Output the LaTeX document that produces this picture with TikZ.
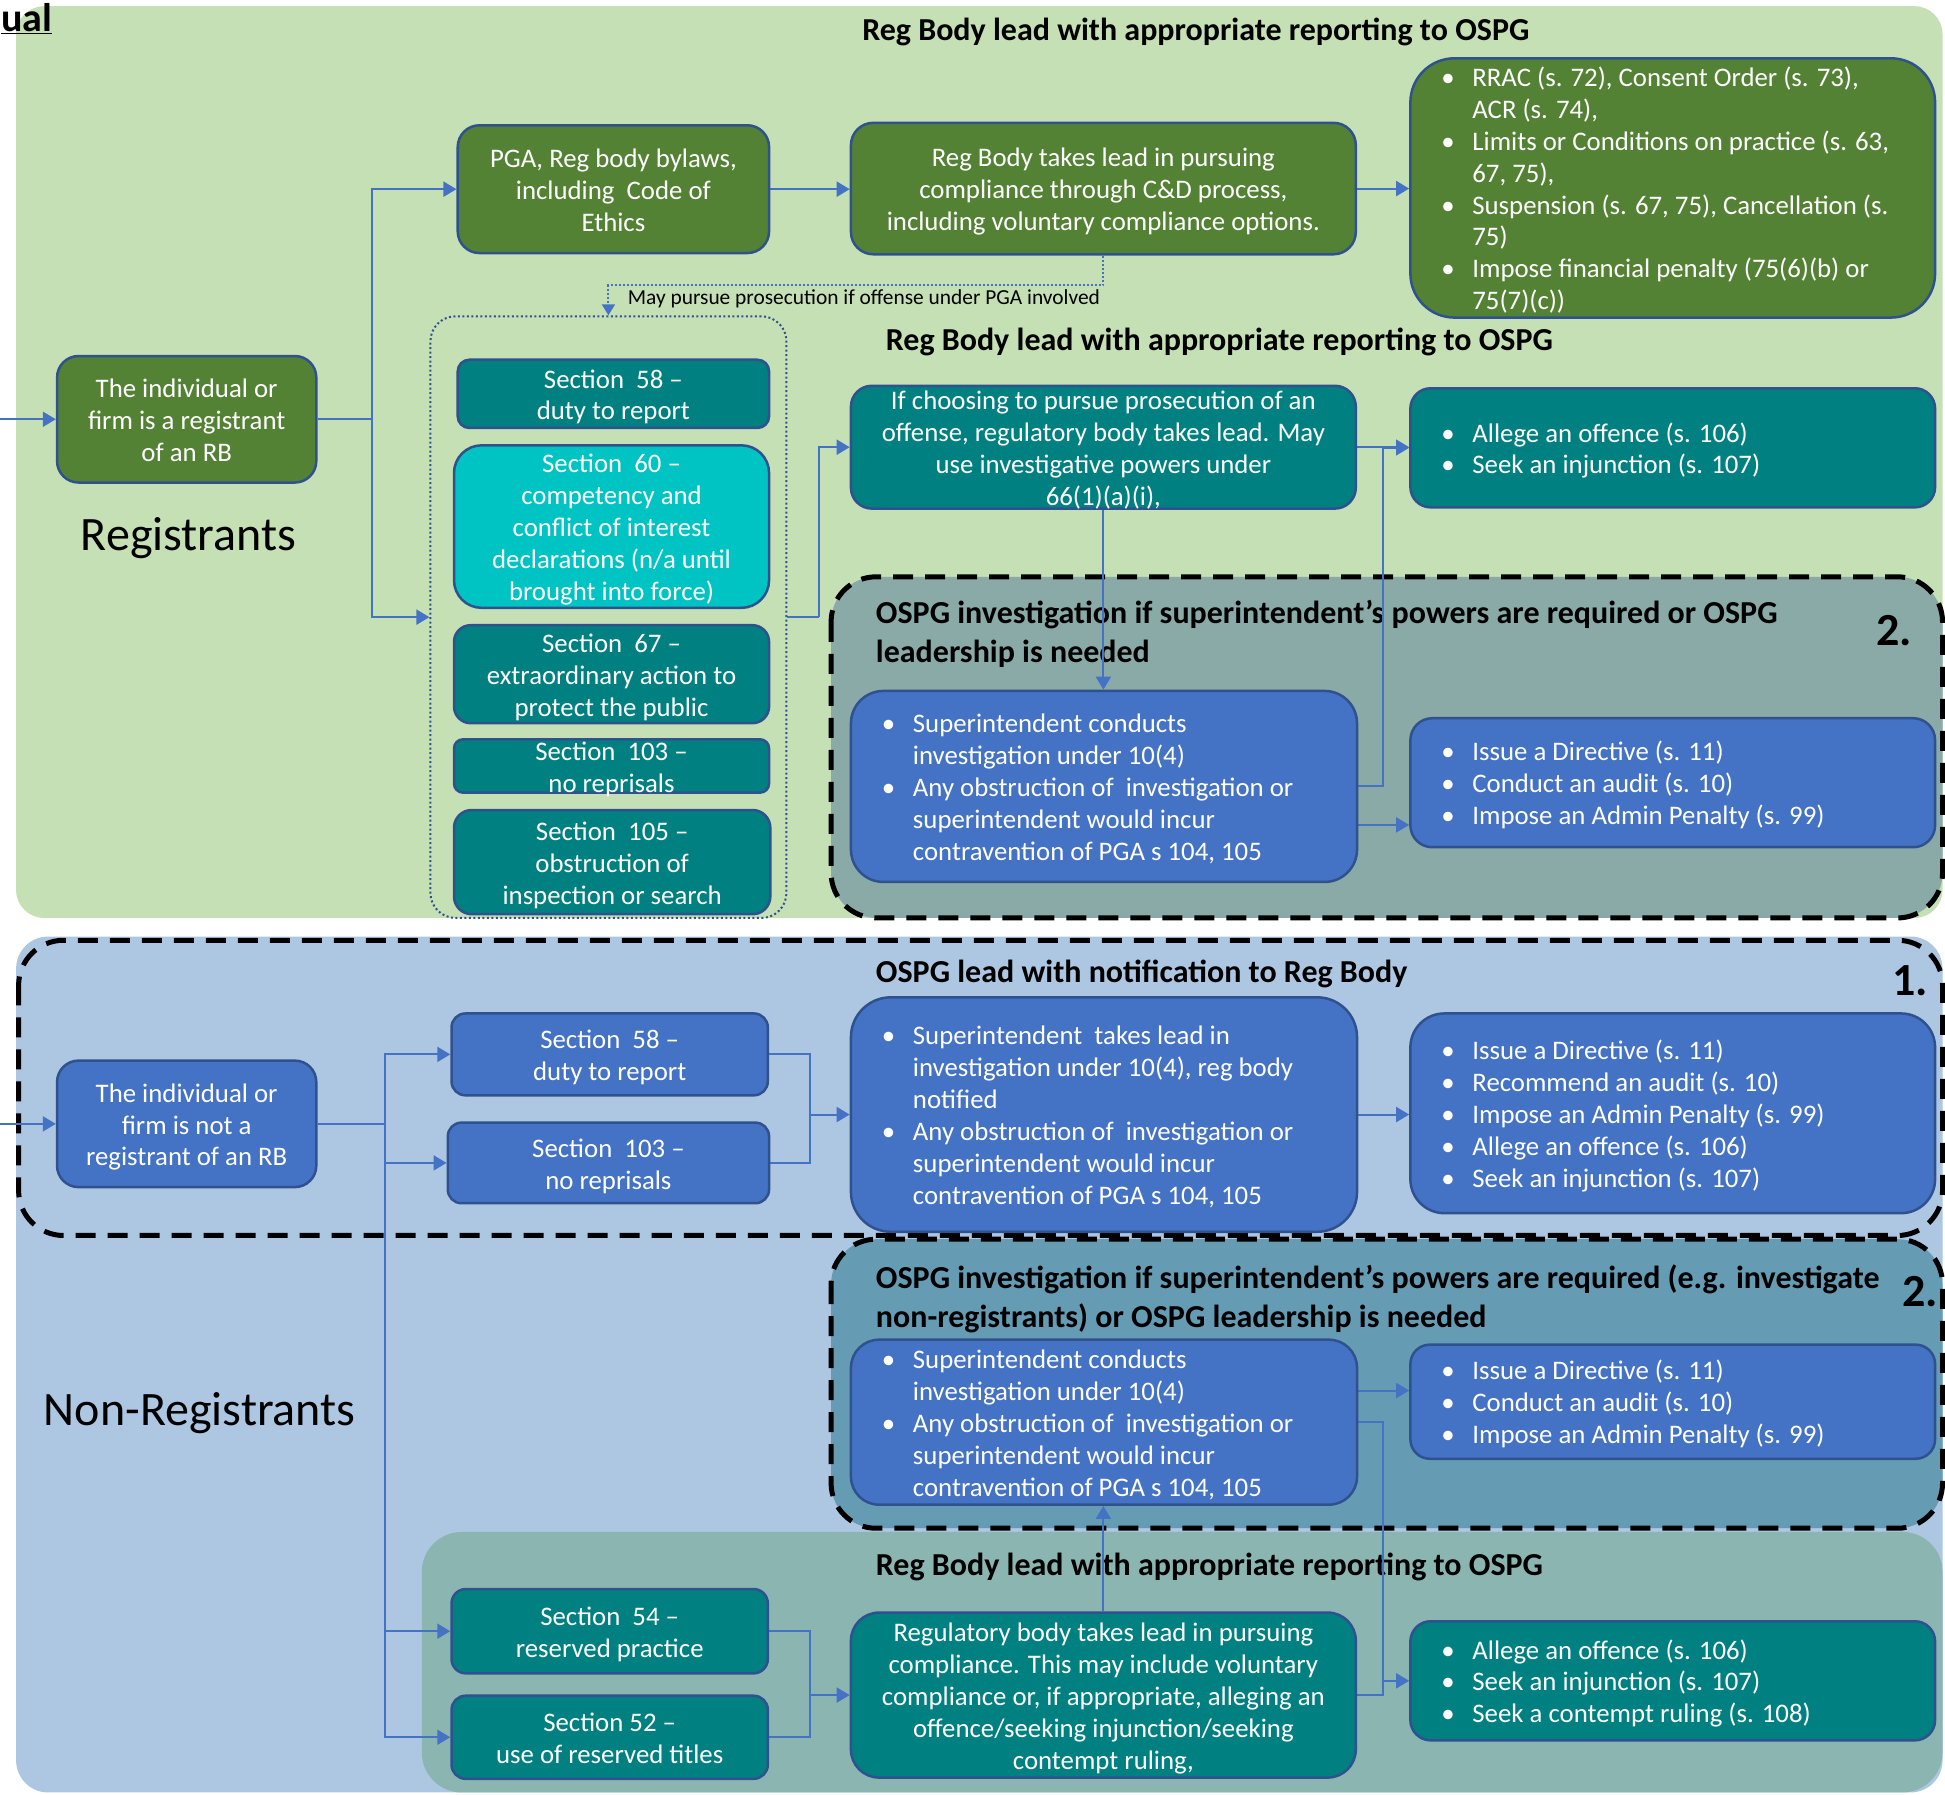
\documentclass[tikz,border=0pt]{standalone}
\usepackage{fontspec}
\setmainfont{Carlito}
\usetikzlibrary{arrows.meta}
\definecolor{cGreen}{HTML}{548235}
\definecolor{cTeal}{HTML}{008080}
\definecolor{cCyan}{HTML}{00C4C4}
\definecolor{cBlue}{HTML}{4472C4}
\definecolor{cBord}{HTML}{2F528F}
\definecolor{cLine}{HTML}{4472C4}
\definecolor{cBgG}{HTML}{C5E0B4}
\definecolor{cBgB}{HTML}{ADC7E2}
\definecolor{cRegA}{HTML}{89AAA6}
\definecolor{cRegB}{HTML}{659CB4}
\definecolor{cRegC}{HTML}{8BB5B1}
\newcommand\bodyf{\fontsize{26.8}{31.9}\selectfont}
\newcommand\ttlf{\fontsize{32}{38.5}\selectfont\bfseries}
\newcommand\numf{\fontsize{46}{50}\selectfont\bfseries}
\newcommand\sidef{\fontsize{48}{54}\selectfont}
\newcommand\smallf{\fontsize{21.4}{25}\selectfont}
\newcommand\itm{\makebox[31pt][l]{\textbullet}}
\newcommand\cnt{\hspace*{31pt}}
\pgfdeclarelayer{bg}
\pgfdeclarelayer{conn}
\pgfsetlayers{bg,conn,main}
\tikzset{
  box/.style={draw=cBord, line width=2.5pt, text=white, font=\bodyf, inner sep=0pt, text height=20pt, text depth=0pt},
  grn/.style={box, fill=cGreen},
  tl/.style={box, fill=cTeal},
  cy/.style={box, fill=cCyan},
  bl/.style={box, fill=cBlue},
  conn/.style={draw=cLine, line width=2pt, -{Triangle[length=13pt,width=15pt]}},
  plain/.style={draw=cLine, line width=2pt},
  ttl/.style={font=\ttlf, text=black, inner sep=0pt},
  dreg/.style={draw=black, line width=5pt, dash pattern=on 20pt off 12pt, rounded corners=45pt},
}
\newcommand\bx[7]{%
  \pgfmathsetmacro\BXw{(#5-#3)*1.2404}%
  \pgfmathsetmacro\BXh{(#6-#4)*1.2404}%
  \pgfmathsetmacro\BXr{min(\BXw,\BXh)*0.17}%
  \node[#1, minimum width=\BXw pt, minimum height=\BXh pt, rounded corners=\BXr pt] (#2) at ({(#3+#5)/2},{(#4+#6)/2}) {\begin{tabular}{@{}c@{}}#7\end{tabular}};}
\newcommand\lx[7]{%
  \pgfmathsetmacro\BXw{(#5-#3)*1.2404}%
  \pgfmathsetmacro\BXh{(#6-#4)*1.2404}%
  \pgfmathsetmacro\BXt{\BXw-62}%
  \pgfmathsetmacro\BXr{min(\BXw,\BXh)*0.17}%
  \node[#1, minimum width=\BXw pt, minimum height=\BXh pt, rounded corners=\BXr pt] (#2) at ({(#3+#5)/2},{(#4+#6)/2}) {\makebox[\BXt pt][l]{\begin{tabular}{@{}l@{}}#7\end{tabular}}};}
\begin{document}
\begin{tikzpicture}[x=1.2404pt, y=-1.2404pt]
\useasboundingbox (0,0) rectangle (1568,1447);
\begin{pgfonlayer}{bg}
  \fill[white] (0,0) rectangle (1568,1447);
  \fill[cBgG, rounded corners=28pt] (13,5) rectangle (1566,740);
  \fill[cBgB, rounded corners=32pt] (13,755) rectangle (1566,1445);
  \draw[dreg, fill=cRegA] (670,465) rectangle (1566,740);
  \draw[dreg] (15,758) rectangle (1566,996);
  \draw[dreg, fill=cRegB] (670,999) rectangle (1566,1232);
  \fill[cRegC, rounded corners=40pt] (340,1235) rectangle (1566,1445);
  \node[ttl] (t1) at (964,26) {Reg Body lead with appropriate reporting to OSPG};
  \node[ttl] (t2) at (983,276) {Reg Body lead with appropriate reporting to OSPG};
  \node[ttl, anchor=west, align=left] (t3) at (706,511) {OSPG investigation if superintendent’s powers are required or OSPG\\leadership is needed};
  \node[ttl, anchor=west] (t4) at (706,785) {OSPG lead with notification to Reg Body};
  \node[ttl, anchor=west, align=left] (t5) at (706,1047) {OSPG investigation if superintendent’s powers are required (e.g. investigate\\non-registrants) or OSPG leadership is needed};
  \node[ttl] (t6) at (975,1263) {Reg Body lead with appropriate reporting to OSPG};
  \node[font=\numf, inner sep=0pt] (n2a) at (1527,508) {2.};
  \node[font=\numf, inner sep=0pt] (n1) at (1540,791) {1.};
  \node[font=\numf, inner sep=0pt] (n2b) at (1548,1041) {2.};
\end{pgfonlayer}
\node[font=\fontsize{40}{44}\selectfont\bfseries, anchor=base west, inner sep=0pt] (ual) at (1,25) {\underline{ual}};
\node[font=\sidef, inner sep=0pt] (reg) at (152,434) {Registrants};
\node[font=\sidef, inner sep=0pt] (nreg) at (161,1139) {Non-Registrants};
% boxes
\bx{grn}{RB1}{46}{287}{255}{389}{The individual or\\firm is a registrant\\of an RB}
\bx{grn}{PGA}{369}{101}{620}{204}{PGA, Reg body bylaws,\\including\ \ Code of\\Ethics}
\bx{grn}{RegBody}{686}{99}{1093}{205}{Reg Body takes lead in pursuing\\compliance through C\&D process,\\including voluntary compliance options.}
\lx{grn}{RRAC}{1137}{47}{1560}{256}{\itm RRAC (s. 72), Consent Order (s. 73),\\\cnt ACR (s. 74),\\\itm Limits or Conditions on practice (s. 63,\\\cnt 67, 75),\\\itm Suspension (s. 67, 75), Cancellation (s.\\\cnt 75)\\\itm Impose financial penalty (75(6)(b) or\\\cnt 75(7)(c))}
\node[draw=cBord, line width=2pt, dash pattern=on 2pt off 2.5pt, rounded corners=25pt, minimum width=356pt, minimum height=601.6pt, inner sep=0pt] (cont) at (490.5,497.5) {};
\bx{tl}{S58}{369}{290}{620}{345}{Section\ \ 58 –\\duty to report}
\bx{cy}{S60}{366}{359}{620}{490}{Section\ \ 60 –\\competency and\\conflict of interest\\declarations (n/a until\\brought into force)}
\bx{tl}{S67}{366}{504}{620}{583}{Section\ \ 67 –\\extraordinary action to\\protect the public}
\bx{tl}{S103}{366}{596}{620}{639}{Section\ \ 103 –\\no reprisals}
\bx{tl}{S105}{366}{653}{621}{737}{Section\ \ 105 –\\obstruction of\\inspection or search}
\bx{tl}{Pros}{686}{311}{1093}{410}{If choosing to pursue prosecution of an\\offense, regulatory body takes lead. May\\use investigative powers under\\66(1)(a)(i),}
\lx{tl}{Allege}{1137}{313}{1560}{409}{\itm Allege an offence (s. 106)\\\itm Seek an injunction (s. 107)}
\lx{bl}{Super}{686}{557}{1094}{711}{\itm Superintendent conducts\\\cnt investigation under 10(4)\\\itm Any obstruction of\ \ investigation or\\\cnt superintendent would incur\\\cnt contravention of PGA s 104, 105}
\lx{bl}{Directive}{1137}{579}{1560}{683}{\itm Issue a Directive (s. 11)\\\itm Conduct an audit (s. 10)\\\itm Impose an Admin Penalty (s. 99)}
\bx{bl}{NR}{46}{855}{255}{957}{The individual or\\firm is not a\\registrant of an RB}
\bx{bl}{S58b}{364}{817}{619}{883}{Section\ \ 58 –\\duty to report}
\bx{bl}{S103b}{361}{905}{620}{970}{Section\ \ 103 –\\no reprisals}
\lx{bl}{Super1}{686}{804}{1094}{993}{\itm Superintendent\ \ takes lead in\\\cnt investigation under 10(4), reg body\\\cnt notified\\\itm Any obstruction of\ \ investigation or\\\cnt superintendent would incur\\\cnt contravention of PGA s 104, 105}
\lx{bl}{Dir1}{1137}{817}{1560}{978}{\itm Issue a Directive (s. 11)\\\itm Recommend an audit (s. 10)\\\itm Impose an Admin Penalty (s. 99)\\\itm Allege an offence (s. 106)\\\itm Seek an injunction (s. 107)}
\lx{bl}{Super2}{686}{1080}{1094}{1213}{\itm Superintendent conducts\\\cnt investigation under 10(4)\\\itm Any obstruction of\ \ investigation or\\\cnt superintendent would incur\\\cnt contravention of PGA s 104, 105}
\lx{bl}{Dir2}{1137}{1084}{1560}{1176}{\itm Issue a Directive (s. 11)\\\itm Conduct an audit (s. 10)\\\itm Impose an Admin Penalty (s. 99)}
\bx{tl}{S54}{364}{1281}{619}{1349}{Section\ \ 54 –\\reserved practice}
\bx{tl}{S52}{364}{1367}{619}{1434}{Section 52 –\\use of reserved titles}
\bx{tl}{RBL}{686}{1300}{1093}{1433}{Regulatory body takes lead in pursuing\\compliance. This may include voluntary\\compliance or, if appropriate, alleging an\\offence/seeking injunction/seeking\\contempt ruling,}
\lx{tl}{Allege2}{1137}{1307}{1560}{1403}{\itm Allege an offence (s. 106)\\\itm Seek an injunction (s. 107)\\\itm Seek a contempt ruling (s. 108)}
% connectors
\begin{pgfonlayer}{conn}
  \coordinate (inA) at (0,338);
  \coordinate (jA) at (300,338);
  \coordinate (jB) at (660,497.5);
  \coordinate (jC) at (1115,634);
  \coordinate (dA) at (889.5,230);
  \draw[conn] (inA) -- (RB1.west);
  \draw[plain] (RB1.east) -- (jA);
  \draw[conn] (jA) |- (PGA.west);
  \draw[conn] (jA) |- (cont.west);
  \draw[conn] (PGA.east) -- (RegBody.west |- PGA.east);
  \draw[conn] (RegBody.east) -- (RRAC.west |- RegBody.east);
  \draw[draw=cLine, line width=2pt, dash pattern=on 2pt off 2pt, -{Triangle[length=11pt,width=13pt]}] (RegBody.south) -- (dA) -| (cont.north);
  \node[font=\smallf, anchor=west, inner sep=0pt] (lbl) at (506,241) {May pursue prosecution if offense under PGA involved};
  \draw[plain] (cont.east) -- (jB);
  \draw[conn] (jB) |- (Pros.west);
  \draw[conn] (Pros.east) -- (Allege.west |- Pros.east);
  \draw[conn] (Pros.south) -- (Pros.south |- Super.north);
  \draw[conn] (Super.east) -- (jC) |- (Allege.west);
  \draw[conn] (Super.east |- 0,665) -- (Directive.west |- 0,665);
  \coordinate (inB) at (0,906);
  \coordinate (jD) at (310,906);
  \coordinate (jE) at (653,898.5);
  \coordinate (jF) at (1115,1355);
  \coordinate (jG) at (653,1366.5);
  \draw[conn] (inB) -- (NR.west);
  \draw[plain] (NR.east) -- (jD);
  \draw[conn] (jD) |- (S58b.west);
  \draw[conn] (jD) |- (S103b.west);
  \draw[conn] (jD) |- (S54.west);
  \draw[conn] (jD) |- (S52.west);
  \draw[plain] (S58b.east) -| (jE);
  \draw[plain] (S103b.east) -| (jE);
  \draw[conn] (jE) -- (Super1.west);
  \draw[conn] (Super1.east) -- (Dir1.west |- Super1.east);
  \draw[conn] (Super2.east |- 0,1121) -- (Dir2.west |- 0,1121);
  \draw[conn] (Super2.east) -| (jF) -- (Allege2.west |- jF);
  \draw[plain] (RBL.east) -| (jF);
  \draw[plain] (S54.east) -| (jG);
  \draw[plain] (S52.east) -| (jG);
  \draw[conn] (jG) -- (RBL.west);
  \draw[conn] (RBL.north) -- (RBL.north |- Super2.south);
\end{pgfonlayer}
\end{tikzpicture}
\end{document}
